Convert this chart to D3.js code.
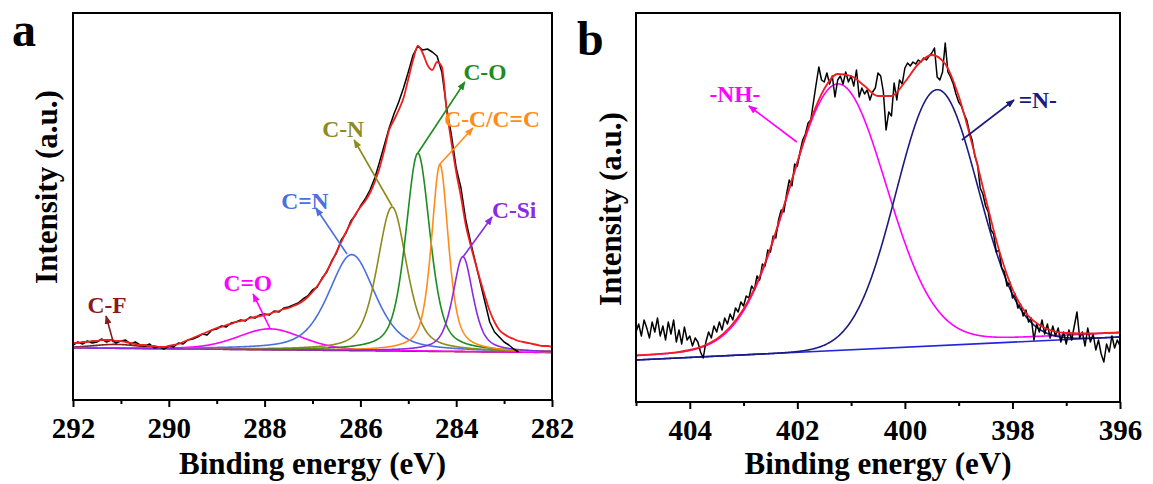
<!DOCTYPE html>
<html><head><meta charset="utf-8">
<script src="https://cdn.jsdelivr.net/npm/d3@7"></script>
<style>
body{margin:0;background:#fff;}
svg text{font-family:"Liberation Serif","Times New Roman",serif;font-weight:bold;}
</style></head><body>
<svg id="chart" width="1153" height="484"></svg>
<script>
// ---------------- Panel a : C 1s ----------------
const aEnergyStart = 292, aEnergyStep = 0.1;
const aRaw = [55,58,56,59,57,58,61,58,60,57,59,60,56,58,55,54,56,52,53,51,54,
  53,57,56,60,61,63,66,65,70,71,74,73,77,78,80,79,83,82,85,86,
  85,89,88,92,93,95,97,101,104,110,113,122,128,139,147,160,167,179,185,194,
  201,210,222,238,255,272,286,298,312,328,345,354,350,351,348,344,328,292,265,232,
  212,180,158,138,118,98,78,68,63,58,55,51,48];
const aEnvelope = [57,57,58,58,59,59,60,60,60,59,59,58,57,56,55,55,54,54,53,53,54,
  55,56,58,60,62,64,66,68,70,72,73,75,76,78,79,80,82,83,84,85,
  86,88,89,91,92,94,96,99,103,108,114,121,129,138,148,158,168,177,186,193,
  199,207,218,232,250,270,280,290,302,321,340,354,347,335,330,338,333,290,258,228,
  203,175,155,137,120,104,89,78,70,66,63,61,59,58,57,56,55,54,54,53];
const aBackground = [52, 47.5];            // at 292 eV and 282 eV
const aPeakNames   = ["C-F","C=O","C=N","C-N","C-O","C-C/C=C","C-Si"];
const aPeakCenters = [291.1, 287.89, 286.18, 285.34, 284.80, 284.34, 283.86];
const aPeakHeights = [4, 21, 96, 144, 198, 187, 95];
const aPeakFWHM    = [1.2, 1.6, 1.15, 0.73, 0.6, 0.42, 0.5];
const aPeakLorentz = [0.3, 0.3, 0.5, 0.5, 0.5, 0.6, 0.6];
// annotation: label anchor (E, v) and arrow from/to (E, v)
const aLabelE   = [291.29, 288.35, 287.16, 286.36, 283.40, 283.25, 282.79];
const aLabelV   = [87, 109, 191, 263, 320, 273, 182];
const aArrowE0  = [291.16, 287.89, 286.28, 285.34, 284.80, 284.34, 283.86];
const aArrowV0  = [58, 72, 146, 194, 247, 236, 143];
const aArrowE1  = [291.31, 288.24, 286.93, 286.13, 283.82, 283.65, 283.25];
const aArrowV1  = [84, 106, 192, 260, 318, 272, 183];
const aTicks = [292, 290, 288, 286, 284, 282];
const aMinorTicks = [291, 289, 287, 285, 283];

// ---------------- Panel b : N 1s ----------------
const bEnergyStart = 405, bEnergyStep = 0.05;
const bRaw = [70,78,66,82,74,64,80,70,84,66,76,62,80,68,82,60,72,58,75,62,66,56,64,60,50,44,60,
  70,64,76,70,80,72,84,78,88,82,94,90,100,96,106,104,116,112,126,122,138,136,152,150,166,164,182,192,190,208,222,216,238,236,
  250,262,268,279,282,300,318,335,322,320,329,318,326,305,322,326,318,330,320,326,316,332,305,314,308,312,302,310,314,329,326,310,272,290,286,319,302,322,318,334,
  339,336,340,338,342,340,344,342,346,349,354,325,322,330,359,330,325,318,308,300,296,288,
  282,270,262,246,238,214,208,196,190,172,168,150,152,134,130,116,120,104,
  108,94,98,86,92,80,84,62,78,70,82,68,78,64,76,66,74,60,70,58,
  72,62,76,90,64,70,56,74,60,68,52,62,48,40,58,50,66,54,62,56];
const bEnvStart = 405, bEnvStep = 0.25;
const bEnvelope = [46.5,47.3,48.3,49.7,52,56,63,75,93,119,154,196,240,282,313,328,326,316,306,306,
  320,338,347,338,306,258,204,152,113,89,77,71,69,68.5,68.5,69,69.5];
const bBackground = [42, 65];              // at 405 eV and 396 eV
const bPeakNames   = ["-NH-", "=N-"];
const bPeakCenters = [401.25, 399.4];
const bPeakHeights = [262, 256];
const bPeakFWHM    = [2.12, 1.8];
const bPeakOffset  = [4.5, 0];
const bLabelE  = [403.16, 397.53];
const bLabelV  = [300, 294];
const bArrowE0 = [402.01, 398.94];
const bArrowV0 = [260, 262];
const bArrowE1 = [402.90, 397.97];
const bArrowV1 = [296, 302];
const bTicks = [404, 402, 400, 398, 396];
const bMinorTicks = [405, 403, 401, 399, 397];

// ---------------- styles ----------------
const aColors = ["#8b1a1a","#ff00ff","#4a70e0","#8b8b1e","#1e8c1e","#ff8c1a","#8a2be2"];
const bColors = ["#ff00ff","#1a1a80"];
const envColor = "#f01e1e", rawColor = "#000", baseColor = "#2424e0";

const svg = d3.select("#chart");
const defs = svg.append("defs");
let markerId = 0;
function marker(color){
  const id = "m" + (markerId++);
  defs.append("marker").attr("id", id).attr("viewBox","0 0 10 8")
    .attr("refX", 9).attr("refY", 4).attr("markerWidth", 9).attr("markerHeight", 7)
    .attr("markerUnits","userSpaceOnUse").attr("orient","auto")
    .append("path").attr("d","M0,0 L10,4 L0,8 Z").attr("fill", color);
  return "url(#" + id + ")";
}
function pv(E, c, h, fwhm, eta){
  const r = (E - c) / (fwhm / 2);
  return h * ((1 - eta) * Math.exp(-Math.LN2 * r * r) + eta / (1 + r * r));
}

function drawPanel(p){
  const g = svg.append("g");
  const x = d3.scaleLinear().domain(p.xDomain).range([p.left, p.right]);
  const y = d3.scaleLinear().domain(p.yDomain).range([p.bottom, p.top]);
  const clipId = "clip" + p.letter;
  defs.append("clipPath").attr("id", clipId).append("rect")
    .attr("x", p.left).attr("y", p.top).attr("width", p.right - p.left).attr("height", p.bottom - p.top);
  const plot = g.append("g").attr("clip-path", "url(#" + clipId + ")");
  const line = d3.line().x(d => x(d[0])).y(d => y(d[1])).curve(d3.curveLinear);
  const smooth = d3.line().x(d => x(d[0])).y(d => y(d[1])).curve(d3.curveMonotoneX);

  const bg = E => p.bg[0] + (p.bg[1] - p.bg[0]) * (p.xDomain[0] - E) / (p.xDomain[0] - p.xDomain[1]);
  const grid = d3.range(p.xDomain[1], p.xDomain[0] + 1e-9, 0.01);

  if (p.drawBaseline){
    plot.append("path").datum(p.xDomain.map(E => [E, bg(E)]))
      .attr("d", line).attr("fill","none").attr("stroke", baseColor).attr("stroke-width", 1.6);
  }
  p.centers.forEach((c, i) => {
    const pts = grid.map(E => [E, bg(E) + (p.offsets ? p.offsets[i] : 0) + pv(E, c, p.heights[i], p.fwhm[i], p.eta ? p.eta[i] : 0)]);
    plot.append("path").datum(pts).attr("d", line).attr("fill","none")
      .attr("stroke", p.colors[i]).attr("stroke-width", 1.6);
  });
  const raw = p.raw.map((v, i) => [p.rawStart - i * p.rawStep, v]);
  plot.append("path").datum(raw).attr("d", line).attr("fill","none")
    .attr("stroke", rawColor).attr("stroke-width", 1.5).attr("stroke-linejoin","round");
  const env = p.env.map((v, i) => [p.envStart - i * p.envStep, v]).reverse();
  plot.append("path").datum(env).attr("d", smooth).attr("fill","none")
    .attr("stroke", envColor).attr("stroke-width", 1.8);

  // annotations
  p.names.forEach((n, i) => {
    g.append("line").attr("x1", x(p.arE0[i])).attr("y1", y(p.arV0[i]))
      .attr("x2", x(p.arE1[i])).attr("y2", y(p.arV1[i]))
      .attr("stroke", p.colors[i]).attr("stroke-width", 1.6).attr("marker-end", marker(p.colors[i]));
    g.append("text").attr("x", x(p.labE[i])).attr("y", y(p.labV[i]))
      .attr("text-anchor", "middle").attr("font-size", p.labelSize).attr("fill", p.colors[i]).text(n);
  });

  // axes
  const ax = g.append("g").attr("transform", `translate(0,${p.bottom})`)
    .call(d3.axisBottom(x).tickValues(p.ticks).tickSize(7).tickPadding(10).tickFormat(d3.format("d")));
  ax.select(".domain").remove();
  ax.selectAll("line").attr("stroke","#000").attr("stroke-width",2);
  ax.selectAll("text").attr("font-size", 29).attr("fill","#000")
    .style("font-family","'Liberation Serif',serif").style("font-weight","bold");
  const axm = g.append("g").attr("transform", `translate(0,${p.bottom})`)
    .call(d3.axisBottom(x).tickValues(p.minor).tickSize(4).tickFormat(""));
  axm.select(".domain").remove();
  axm.selectAll("line").attr("stroke","#000").attr("stroke-width",2);

  g.append("rect").attr("x", p.left).attr("y", p.top).attr("width", p.right - p.left)
    .attr("height", p.bottom - p.top).attr("fill","none").attr("stroke","#000").attr("stroke-width",2);

  g.append("text").attr("x", (p.left + p.right) / 2).attr("y", 474).attr("text-anchor","middle")
    .attr("font-size", 31).attr("fill","#000").text("Binding energy (eV)");
  g.append("text").attr("transform", `translate(${p.yTitleX},${p.yTitleY}) rotate(-90)`)
    .attr("text-anchor","middle").attr("dy","0.35em").attr("font-size", 31).attr("fill","#000")
    .text("Intensity (a.u.)");
  g.append("text").attr("x", p.letterX).attr("y", p.letterY).attr("font-size", 48)
    .attr("fill","#000").text(p.letter);
}

drawPanel({letter:"a", letterX:12, letterY:46, left:73, right:552, top:13, bottom:400,
  xDomain:[292,282], yDomain:[0,387], bg:aBackground,
  centers:aPeakCenters, heights:aPeakHeights, fwhm:aPeakFWHM, eta:aPeakLorentz, colors:aColors,
  raw:aRaw, rawStart:aEnergyStart, rawStep:aEnergyStep,
  env:aEnvelope, envStart:aEnergyStart, envStep:aEnergyStep,
  names:aPeakNames, labE:aLabelE, labV:aLabelV, arE0:aArrowE0, arV0:aArrowV0, arE1:aArrowE1, arV1:aArrowV1,
  labelSize:23.5, ticks:aTicks, minor:aMinorTicks, yTitleX:46, yTitleY:187});

drawPanel({letter:"b", letterX:577, letterY:55, left:636, right:1120, top:13, bottom:402,
  xDomain:[405,396], yDomain:[0,389], bg:bBackground, drawBaseline:true,
  centers:bPeakCenters, heights:bPeakHeights, fwhm:bPeakFWHM, offsets:bPeakOffset, colors:bColors,
  raw:bRaw, rawStart:bEnergyStart, rawStep:bEnergyStep,
  env:bEnvelope, envStart:bEnvStart, envStep:bEnvStep,
  names:bPeakNames, labE:bLabelE, labV:bLabelV, arE0:bArrowE0, arV0:bArrowV0, arE1:bArrowE1, arV1:bArrowV1,
  labelSize:23.5, ticks:bTicks, minor:bMinorTicks, yTitleX:610, yTitleY:209});
</script></body></html>
